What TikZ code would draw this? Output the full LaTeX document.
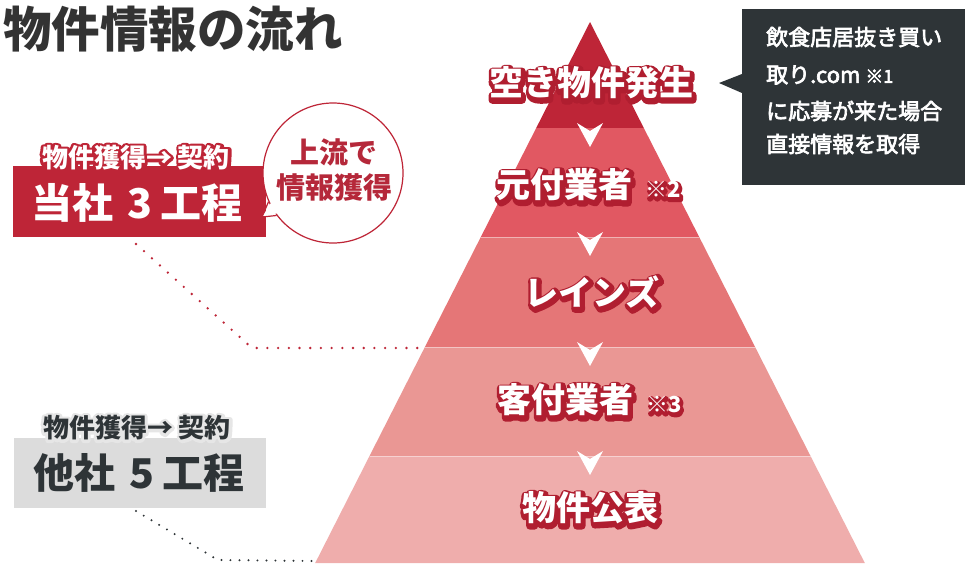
\documentclass[tikz,border=0pt]{standalone}
\usepackage{fontspec}
\setmainfont{Noto Sans CJK JP}
\newfontfamily\outfont{Noto Sans CJK JP}[FakeBold=22]
\newfontfamily\medfont{Noto Sans CJK JP}[FakeBold=3]
\usetikzlibrary{calc}
\definecolor{crim}{HTML}{BE2537}
\definecolor{shred}{HTML}{B01E30}
\definecolor{bandA}{HTML}{BE2537}
\definecolor{bandB}{HTML}{E15862}
\definecolor{bandC}{HTML}{E57677}
\definecolor{bandD}{HTML}{EA9794}
\definecolor{bandE}{HTML}{EFADAC}
\definecolor{darkbox}{HTML}{2E3437}
\definecolor{titlec}{HTML}{333333}
\definecolor{grayb}{HTML}{DCDCDC}
\definecolor{glow}{HTML}{E6E6E6}
\definecolor{bubred}{HTML}{B5283A}
% outlined label: name, position, style, outline colour, text colour, shift, text
\newcommand\olab[7]{%
  \begin{scope}[line join=round, miter limit=1]
  \node[#3, inner sep=0, text=#4, shift={#6}, line join=round] at #2 {\pgfsetroundjoin\pgfsetmiterlimit{1}\outfont\bfseries #7};
  \end{scope}
  \node[#3, inner sep=0, text=#5] (#1) at #2 {#7};
}
\tikzset{
  pyrfont/.style={font=\fontsize{34}{34}\selectfont\bfseries},
  smallnote/.style={font=\fontsize{26}{26}\selectfont\bfseries},
  bigbox/.style={font=\fontsize{41}{41}\selectfont\bfseries},
  downarrow/.style={fill=white},
  reddots/.style={draw=crim, line width=2.6pt, line cap=round, dash pattern=on 0pt off 10.7pt},
  blackdots/.style={draw=darkbox, line width=2.2pt, line cap=round, dash pattern=on 0pt off 9pt},
}
\begin{document}
\begin{tikzpicture}[x=1pt,y=-1pt]
\useasboundingbox (0,0) rectangle (965,563);
\fill[white] (0,0) rectangle (965,563);
% title
\node[anchor=west, inner sep=0, font=\fontsize{48.5}{48.5}\selectfont\bfseries, text=titlec] (title) at (3,29) {物件情報の流れ};
% pyramid bands
\fill[bandA] (590,22) -- (643.8,128) -- (536.2,128) -- cycle;
\fill[bandB] (536.2,128) -- (643.8,128) -- (699.2,237) -- (480.8,237) -- cycle;
\fill[bandC] (480.8,237) -- (699.2,237) -- (755.1,347) -- (424.9,347) -- cycle;
\fill[bandD] (424.9,347) -- (755.1,347) -- (810.5,456) -- (369.5,456) -- cycle;
\fill[bandE] (369.5,456) -- (810.5,456) -- (864.8,563) -- (315.2,563) -- cycle;
\draw[white, opacity=0.45, line width=0.8pt] (480.8,237) -- (699.2,237) (424.9,347) -- (755.1,347) (369.5,456) -- (810.5,456);
\coordinate (band4) at (424,348);
\coordinate (band5) at (316,561);
% arrows
\foreach \b in {128,237,347,456}{
  \fill[downarrow] (577,\b-5) -- (590,\b+3) -- (603,\b-5) -- (590,\b+19) -- cycle;
}
% pyramid labels
\olab{l1}{(591,83)}{pyrfont}{shred}{white}{(1.2pt,-1.8pt)}{空き物件発生}
\olab{l2}{(496,185)}{pyrfont,anchor=west}{shred}{white}{(1.2pt,-1.8pt)}{元付業者\hspace{13pt}{\fontsize{22}{22}\selectfont ※2}}
\olab{l3}{(592,292)}{pyrfont}{shred}{white}{(1.2pt,-1.8pt)}{レインズ}
\olab{l4}{(497,400)}{pyrfont,anchor=west}{shred}{white}{(1.2pt,-1.8pt)}{客付業者\hspace{13pt}{\fontsize{22}{22}\selectfont ※3}}
\olab{l5}{(590,508)}{pyrfont}{shred}{white}{(1.2pt,-1.8pt)}{物件公表}
% dark note box
\node[fill=darkbox, minimum width=223, minimum height=176, anchor=north west, inner sep=0] (note) at (742,9) {};
\coordinate (ptip) at (719,83);
\fill[darkbox] (742,74) -- (ptip) -- (742,93) -- cycle;
\begin{scope}[every node/.style={anchor=west, inner sep=0, text=white, font=\fontsize{22}{22}\selectfont}]
\node (n1) at (766,37) {\medfont 飲食店居抜き買い};
\node (n2) at (766,75) {\medfont 取り.com {\fontsize{18}{18}\selectfont ※1}};
\node (n3) at (766,111) {\medfont に応募が来た場合};
\node (n4) at (766,144) {\medfont 直接情報を取得};
\end{scope}
% red box (our company)
\node[fill=crim, minimum width=253, minimum height=71, anchor=north west, inner sep=0] (ourbox) at (13,166) {};
\node[bigbox, text=white, inner sep=0] (ourtext) at (137,203) {当社\hspace{15pt}3\hspace{8pt}工程};
\olab{ourlab}{(136,158)}{smallnote}{crim}{white}{(0pt,0pt)}{物件獲得→\hspace{6pt}契約}
% bubble
\node[circle, draw=crim, line width=1.2pt, fill=white, minimum size=140, inner sep=0] (bubble) at (333,173) {};
\coordinate (btip) at (262,217);
\fill[white] ($(bubble.center)!0.93!(bubble.204)$) -- (btip) -- ($(bubble.center)!0.93!(bubble.217)$) -- cycle;
\draw[crim, line width=1.2pt] (bubble.204) -- (btip) -- (bubble.217);
\node[align=center, inner sep=0, text=bubred, font=\fontsize{29}{35}\selectfont\bfseries] (bubtext) at (334,170) {上流で\\情報獲得};
% gray box (others)
\node[fill=grayb, minimum width=252, minimum height=70, anchor=north west, inner sep=0] (otherbox) at (14,438) {};
\node[bigbox, text=darkbox, inner sep=0] (othertext) at (139,473) {他社\hspace{15pt}5\hspace{8pt}工程};
\olab{otherlab}{(137,428)}{smallnote}{glow}{darkbox}{(0pt,0pt)}{物件獲得→\hspace{6pt}契約}
% dotted connectors
\coordinate (r1) at (136,244);
\coordinate (r2) at (252,348);
\draw[reddots] (r1) -- (r2) -- (band4);
\coordinate (k1) at (136,511);
\coordinate (k2) at (218,560);
\draw[blackdots] (k1) -- (k2) -- (band5);
\end{tikzpicture}
\end{document}
